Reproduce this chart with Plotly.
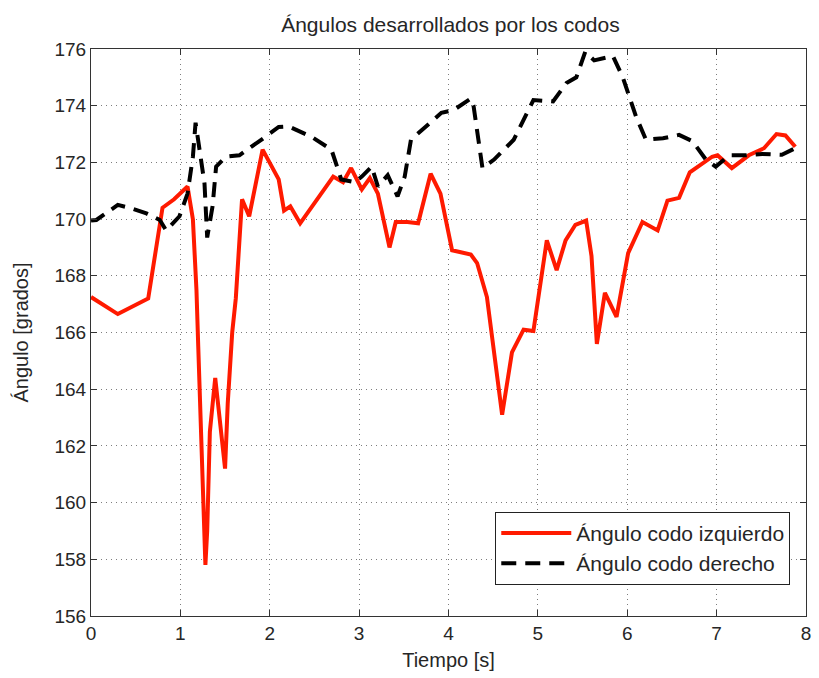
import plotly.graph_objects as go

# Elbow angle time series (seconds, degrees)
t_izq = [0.00, 0.30, 0.64, 0.80, 0.93, 1.08, 1.14, 1.18, 1.20, 1.23, 1.25, 1.28, 1.30,
         1.33, 1.39, 1.44, 1.50, 1.53, 1.58, 1.62, 1.69, 1.77, 1.92, 2.10, 2.16, 2.23,
         2.34, 2.71, 2.82, 2.91, 3.03, 3.12, 3.21, 3.34, 3.41, 3.54, 3.66, 3.80, 3.91,
         4.04, 4.25, 4.32, 4.43, 4.60, 4.71, 4.84, 4.95, 5.10, 5.21, 5.31, 5.42, 5.54,
         5.60, 5.66, 5.75, 5.88, 6.01, 6.17, 6.34, 6.45, 6.58, 6.70, 6.95, 7.01, 7.17,
         7.36, 7.53, 7.67, 7.77, 7.88]
ang_izq = [167.25, 166.65, 167.2, 170.4, 170.7, 171.15, 170.0, 167.5, 165.5, 162.5, 160.0,
           157.8, 159.0, 162.5, 164.4, 162.8, 161.2, 163.5, 166.0, 167.2, 170.7, 170.1,
           172.45, 171.4, 170.3, 170.45, 169.85, 171.5, 171.3, 171.8, 171.05, 171.45,
           170.9, 169.0, 169.9, 169.9, 169.85, 171.6, 170.9, 168.9, 168.75, 168.45,
           167.25, 163.1, 165.3, 166.1, 166.05, 169.25, 168.2, 169.25, 169.8, 169.95,
           168.7, 165.6, 167.4, 166.55, 168.8, 169.9, 169.6, 170.65, 170.75, 171.65,
           172.2, 172.25, 171.8, 172.25, 172.5, 173.0, 172.95, 172.55]

t_der = [0.00, 0.06, 0.30, 0.43, 0.62, 0.77, 0.84, 0.99, 1.08, 1.14, 1.17, 1.21, 1.27,
         1.30, 1.36, 1.40, 1.51, 1.66, 1.80, 1.95, 2.10, 2.21, 2.47, 2.69, 2.80, 2.95,
         3.03, 3.14, 3.21, 3.32, 3.43, 3.51, 3.58, 3.73, 3.92, 4.06, 4.25, 4.28, 4.38,
         4.51, 4.73, 4.95, 5.17, 5.32, 5.43, 5.53, 5.63, 5.84, 5.95, 6.10, 6.21, 6.40,
         6.58, 6.73, 6.88, 6.99, 7.14, 7.32, 7.51, 7.73, 7.88]
ang_der = [169.95, 169.97, 170.5, 170.4, 170.2, 169.97, 169.6, 170.1, 170.9, 172.2, 173.4,
           172.45, 171.25, 169.35, 170.45, 171.85, 172.2, 172.25, 172.55, 172.9, 173.25,
           173.27, 172.9, 172.45, 171.4, 171.3, 171.5, 171.85, 171.15, 171.55, 170.8,
           171.5, 172.8, 173.2, 173.75, 173.85, 174.25, 174.0, 171.8, 172.1, 172.8,
           174.2, 174.15, 174.8, 175.0, 175.9, 175.6, 175.75, 175.0, 173.6, 172.8,
           172.85, 172.97, 172.75, 172.1, 171.85, 172.25, 172.25, 172.3, 172.27, 172.5]

x_ticks = [0, 1, 2, 3, 4, 5, 6, 7, 8]
y_ticks = [156, 158, 160, 162, 164, 166, 168, 170, 172, 174, 176]

FONT = "Liberation Sans, Arial, sans-serif"
TXT = "#262626"

fig = go.Figure()
fig.add_trace(go.Scatter(x=t_izq, y=ang_izq, mode="lines", name="Ángulo codo izquierdo",
                         line=dict(color="#ff1a00", width=4)))
fig.add_trace(go.Scatter(x=t_der, y=ang_der, mode="lines", name="Ángulo codo derecho",
                         line=dict(color="black", width=4, dash="15px,9px")))

axis_common = dict(
    showline=True, linecolor="#333333", linewidth=1, mirror="ticks",
    ticks="inside", ticklen=6, tickcolor="#333333",
    showgrid=True, gridcolor="rgba(70,70,70,0.7)", gridwidth=1, griddash="1px,4px",
    zeroline=False, tickfont=dict(family=FONT, size=19, color=TXT),
)

fig.update_xaxes(range=[0, 8], tickvals=x_ticks, ticktext=[str(v) for v in x_ticks],
                 title=dict(text="Tiempo [s]", font=dict(family=FONT, size=20, color=TXT),
                            standoff=10),
                 **axis_common)
fig.update_yaxes(range=[156, 176], tickvals=y_ticks, ticktext=[str(v) for v in y_ticks],
                 title=dict(text="Ángulo [grados]", font=dict(family=FONT, size=20, color=TXT),
                            standoff=20),
                 **axis_common)

fig.update_layout(
    width=819, height=678,
    margin=dict(l=91, r=8, t=49, b=62),
    paper_bgcolor="white", plot_bgcolor="white",
    title=dict(text="Ángulos desarrollados por los codos", x=0.55, xanchor="center",
               y=0.963, yanchor="middle", font=dict(family=FONT, size=21, color=TXT)),
    legend=dict(x=0.978, y=0.055, xanchor="right", yanchor="bottom",
                bgcolor="white", bordercolor="#222222", borderwidth=1,
                font=dict(family=FONT, size=21, color=TXT), itemwidth=70,
                tracegroupgap=0),
    showlegend=True,
)

fig.write_html("out.html")
